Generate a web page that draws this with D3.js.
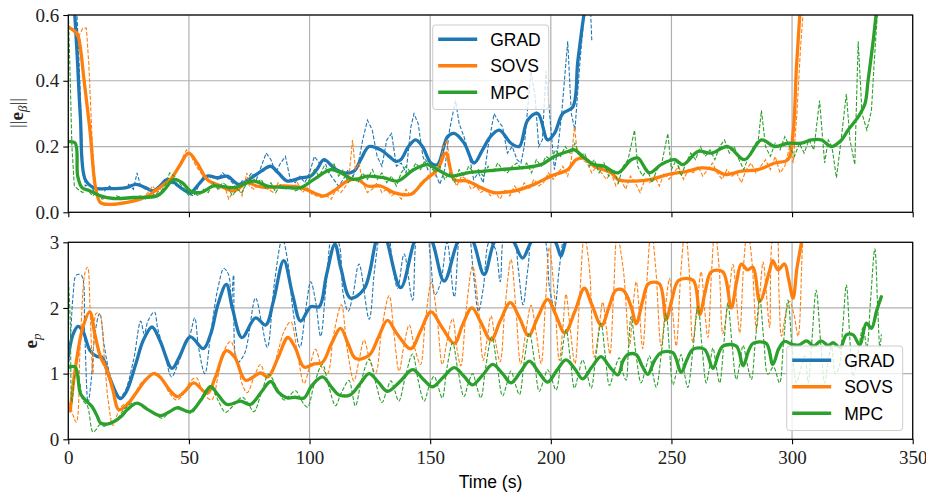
<!DOCTYPE html>
<html><head><meta charset="utf-8">
<script src="https://cdn.jsdelivr.net/npm/d3@7"></script>
<style>body{margin:0;background:#fff}svg{display:block}</style>
</head><body>
<svg id="chart" width="926" height="496"></svg>
<script>
// ---------- data ----------
const seriesNames = ["GRAD", "SOVS", "MPC"];
const xTicks = [0, 50, 100, 150, 200, 250, 300, 350];
const yTopTicks = [0.0, 0.2, 0.4, 0.6];
const yBotTicks = [0, 1, 2, 3];

// top panel ||e_beta||, smoothed (thick)
const gradTop = [[0,0.75],[2,0.66],[3.5,0.5],[5,0.29],[7,0.1],[10.5,0.075],[17,0.072],[24,0.075],[28,0.085],[32,0.075],[35.3,0.065],[38,0.08],[41,0.1],[44,0.09],[46.5,0.075],[50.6,0.06],[54,0.085],[57.6,0.11],[62,0.105],[65.9,0.11],[70.7,0.085],[76.9,0.11],[80,0.125],[83.9,0.14],[87,0.12],[90.8,0.095],[96.3,0.105],[100.5,0.11],[103,0.13],[106,0.16],[110.1,0.135],[114.3,0.12],[118.4,0.125],[121.2,0.16],[124.7,0.2],[129.5,0.19],[133,0.17],[135.7,0.155],[137.8,0.16],[141,0.2],[144,0.22],[146.8,0.2],[150.3,0.15],[153,0.145],[157.2,0.23],[160,0.24],[164.1,0.21],[168.2,0.15],[171.7,0.19],[175,0.23],[178.6,0.25],[183.5,0.21],[186.9,0.2],[190.4,0.28],[194.6,0.3],[198.7,0.22],[201.5,0.24],[204.9,0.3],[209.1,0.32],[211.2,0.46],[213.9,0.61],[217,0.75]];
const sovsTop = [[0.8,0.56],[3.6,0.545],[5,0.5],[6.4,0.41],[9.1,0.24],[11.2,0.08],[13.3,0.03],[17.4,0.024],[24.4,0.03],[29.9,0.04],[33,0.05],[36.8,0.07],[42.3,0.1],[46,0.14],[49.9,0.18],[53.4,0.15],[57.6,0.1],[63.1,0.08],[68.6,0.065],[74.2,0.09],[78,0.08],[82.5,0.075],[89.4,0.08],[96.3,0.075],[103.2,0.055],[106,0.05],[110,0.065],[115.7,0.095],[119.8,0.1],[124,0.08],[129.5,0.08],[135,0.06],[142,0.055],[147.5,0.095],[153,0.13],[156.5,0.18],[160,0.1],[165.5,0.095],[171,0.075],[176.5,0.06],[184.8,0.065],[193.1,0.085],[200,0.11],[207,0.13],[210.5,0.16],[213.9,0.165],[218,0.14],[225,0.12],[227.8,0.1],[234.7,0.095],[241.6,0.1],[248.5,0.115],[256.8,0.125],[262.3,0.135],[267.9,0.13],[272,0.115],[279,0.125],[285.9,0.13],[292.8,0.15],[298.3,0.16],[300.4,0.24],[301.8,0.44],[303.2,0.6],[304.5,0.75]];
const mpcTop = [[0.4,0.215],[2.9,0.21],[3.9,0.11],[5.7,0.075],[9.1,0.065],[13.3,0.05],[18.8,0.042],[27.1,0.045],[36.8,0.05],[40,0.07],[43.7,0.1],[47.2,0.09],[50.6,0.065],[54.8,0.06],[60.3,0.08],[68.6,0.075],[76.9,0.095],[82.5,0.08],[90.8,0.075],[96.3,0.075],[101.8,0.1],[108.8,0.13],[112.9,0.12],[118.4,0.1],[124,0.11],[130.9,0.105],[136.4,0.095],[143.3,0.13],[148.9,0.145],[153,0.13],[158.6,0.11],[165.5,0.12],[172.4,0.125],[179.3,0.13],[187.6,0.135],[195.9,0.145],[201.5,0.17],[207,0.185],[209.8,0.19],[213.9,0.165],[218,0.145],[222,0.14],[227.8,0.12],[233.3,0.16],[236.1,0.165],[240.9,0.12],[245.7,0.145],[251.3,0.16],[254.8,0.145],[261,0.185],[266.5,0.18],[273.4,0.2],[280.3,0.16],[287.3,0.22],[292.8,0.2],[298.3,0.21],[303.9,0.21],[308,0.22],[312.2,0.22],[316.3,0.2],[320.5,0.22],[323.2,0.25],[327.4,0.29],[330.2,0.33],[331.5,0.4],[333.6,0.52],[335,0.61],[336.5,0.68]];

// top panel raw (dashed)
const gradTopRaw = [[0,0.75],[3,0.7],[4.5,0.45],[6,0.15],[7,0.08],[9,0.085],[11,0.06],[13,0.075],[15,0.065],[17,0.08],[19,0.07],[21,0.075],[23,0.07],[25,0.085],[27,0.07],[28.5,0.12],[30,0.08],[32,0.07],[34,0.065],[36,0.05],[38,0.07],[40,0.1],[42,0.09],[44,0.085],[46,0.075],[48,0.07],[50,0.055],[52,0.05],[54,0.08],[56,0.11],[58,0.1],[60,0.11],[62,0.1],[64,0.12],[66,0.105],[68,0.09],[70,0.07],[72,0.095],[74,0.1],[76,0.12],[78,0.1],[80,0.14],[82,0.18],[84,0.16],[86,0.12],[88,0.15],[90,0.17],[92,0.1],[94,0.09],[96,0.11],[98,0.09],[100,0.12],[102,0.17],[104,0.15],[106,0.16],[108,0.12],[110,0.1],[112,0.08],[114,0.1],[116,0.13],[118,0.11],[120,0.14],[122,0.22],[124,0.28],[126,0.25],[128,0.17],[130,0.14],[132,0.22],[134,0.24],[136,0.14],[138,0.15],[140,0.12],[142,0.26],[143.3,0.3],[145,0.27],[147,0.17],[149,0.13],[151,0.14],[154,0.085],[156,0.13],[158,0.25],[160.5,0.34],[162,0.27],[164,0.23],[166,0.18],[168,0.1],[170,0.12],[172,0.09],[174,0.2],[176.5,0.3],[178,0.28],[180,0.26],[182,0.18],[184,0.2],[186,0.16],[187.6,0.15],[189,0.2],[191.8,0.43],[193.5,0.35],[195,0.2],[196.5,0.22],[198,0.43],[199.5,0.3],[201.5,0.13],[203,0.2],[204.5,0.3],[207,0.52],[208.5,0.3],[210,0.25],[212,0.45],[214,0.62],[216,0.7],[217,0.52]];
const sovsTopRaw = [[0,0.57],[2,0.55],[4,0.53],[6,0.56],[7.5,0.56],[8.5,0.45],[10,0.2],[11.5,0.06],[13,0.03],[15,0.025],[18,0.02],[21,0.025],[24,0.03],[27,0.035],[29,0.04],[31,0.045],[33,0.06],[35,0.08],[37,0.06],[39,0.085],[41,0.09],[43,0.1],[45,0.13],[47,0.16],[49,0.19],[51,0.17],[53,0.14],[55,0.12],[57,0.1],[59,0.09],[61,0.085],[63,0.07],[65,0.075],[66.5,0.04],[68,0.06],[70,0.08],[72,0.05],[74,0.12],[75,0.08],[77,0.07],[79,0.085],[81,0.075],[83,0.07],[85,0.06],[87,0.09],[89,0.075],[91,0.08],[93,0.07],[95,0.09],[97,0.06],[99,0.075],[101,0.055],[103,0.05],[105,0.045],[107,0.05],[109,0.04],[111,0.07],[113,0.06],[115,0.08],[116.5,0.12],[117.8,0.22],[119,0.13],[120.5,0.15],[122,0.09],[124,0.06],[126,0.07],[128,0.09],[130,0.06],[132,0.07],[134,0.05],[136,0.06],[138,0.04],[140,0.07],[142,0.05],[144,0.06],[146,0.09],[148,0.1],[150,0.12],[152,0.11],[154,0.15],[155.5,0.2],[157,0.22],[158.5,0.12],[161,0.08],[163,0.11],[165,0.1],[167,0.07],[169,0.08],[171,0.06],[173,0.07],[175,0.05],[177,0.06],[179,0.04],[181,0.07],[183,0.05],[185,0.08],[187,0.06],[189,0.09],[191,0.07],[193,0.1],[195,0.08],[197,0.09],[199,0.12],[201,0.1],[203,0.12],[205,0.14],[207,0.11],[208.5,0.16],[209.8,0.26],[211,0.18],[213,0.16],[215,0.15],[217,0.12],[219,0.14],[221,0.12],[223,0.1],[225,0.12],[227,0.08],[229,0.1],[231,0.07],[233,0.11],[235,0.09],[237,0.06],[239,0.1],[241,0.09],[243,0.11],[245,0.08],[247,0.12],[249,0.1],[251,0.12],[253,0.14],[255,0.1],[257,0.13],[259,0.12],[261,0.14],[263,0.11],[265,0.13],[267,0.15],[269,0.12],[271,0.1],[273,0.13],[275,0.11],[277,0.12],[279,0.09],[281,0.13],[283,0.15],[285,0.12],[287,0.14],[289,0.16],[291,0.13],[293,0.17],[295,0.12],[297,0.14],[299,0.2],[300.5,0.15],[302,0.3],[303.5,0.5],[305,0.65]];
const mpcTopRaw = [[0,0.62],[0.8,0.4],[1.5,0.2],[2.5,0.08],[4,0.07],[6,0.06],[8,0.07],[10,0.05],[12,0.06],[14,0.04],[16,0.045],[18,0.04],[20,0.05],[22,0.045],[24,0.04],[26,0.05],[28,0.045],[30,0.05],[32,0.04],[34,0.05],[36,0.045],[38,0.06],[40,0.08],[42,0.12],[44,0.11],[46,0.09],[48,0.07],[50,0.05],[52,0.06],[54,0.05],[56,0.07],[58,0.06],[60,0.09],[62,0.07],[64,0.09],[66,0.08],[68,0.05],[70,0.07],[72,0.06],[74,0.09],[76,0.11],[78,0.09],[80,0.1],[82,0.07],[84,0.09],[86,0.06],[88,0.085],[90,0.07],[92,0.08],[94,0.065],[96,0.07],[98,0.08],[100,0.1],[102,0.13],[104,0.11],[106,0.14],[108,0.12],[110,0.15],[112,0.11],[114,0.13],[116,0.09],[118,0.11],[120,0.09],[122,0.12],[124,0.1],[126,0.13],[128,0.1],[130,0.12],[132,0.09],[134,0.11],[136,0.08],[138,0.12],[140,0.14],[142,0.12],[144,0.15],[146,0.13],[148,0.16],[150,0.14],[152,0.12],[154,0.14],[156,0.1],[158,0.12],[160,0.09],[162,0.13],[164,0.11],[166,0.14],[168,0.12],[170,0.13],[172,0.11],[174,0.14],[176,0.12],[178,0.15],[180,0.13],[182,0.12],[184,0.14],[186,0.15],[188,0.13],[190,0.15],[192,0.12],[194,0.16],[196,0.14],[198,0.17],[200,0.16],[202,0.19],[204,0.17],[206,0.2],[208,0.18],[210,0.21],[212,0.17],[214,0.18],[216,0.14],[218,0.16],[220,0.12],[222,0.15],[224,0.11],[226,0.13],[228,0.09],[230,0.14],[232,0.16],[234.7,0.25],[236,0.14],[238,0.11],[240,0.13],[242,0.09],[244,0.13],[246,0.15],[248.5,0.24],[250,0.13],[252,0.16],[254,0.11],[256,0.15],[258,0.18],[260,0.16],[262,0.2],[264,0.17],[266,0.19],[268,0.16],[270,0.2],[272,0.22],[274,0.18],[276,0.2],[278,0.16],[280,0.13],[282,0.17],[284,0.2],[286,0.22],[287.3,0.31],[289,0.2],[291,0.17],[293,0.21],[295,0.19],[297,0.23],[299,0.2],[301,0.17],[303,0.21],[305,0.18],[307,0.22],[309,0.19],[311.4,0.34],[313.5,0.15],[315,0.22],[316.5,0.2],[318.4,0.105],[320,0.2],[322.5,0.36],[324,0.22],[326,0.145],[327.4,0.52],[329,0.3],[331,0.25],[332.9,0.31],[334,0.45],[335.5,0.62],[337,0.7]];

// bottom panel e_p, smoothed (thick)
const gradBot = [[0,1.26],[2,1.6],[4,1.72],[6,1.65],[9,1.35],[11.9,1.26],[14,1.25],[17,0.95],[21.6,0.62],[24,0.72],[28,1.15],[31,1.5],[34.7,1.71],[38,1.5],[43,1.08],[46,1.25],[50.6,1.56],[56,1.38],[59,1.6],[62,2.05],[65.5,2.36],[68,2.0],[72,1.55],[77.6,1.85],[81.8,1.74],[85,2.1],[89.3,2.72],[93,2.2],[96.3,1.8],[100.5,2.02],[104,2.02],[107,2.5],[110.5,2.97],[113,2.6],[117,2.15],[122.6,2.29],[127.4,3.0],[130,3.3],[132.3,3.0],[137.8,2.31],[143.3,3.0],[147,3.3],[151,3.0],[155.8,2.41],[161.3,3.0],[165,3.2],[168,3.0],[172.4,2.51],[176.5,3.0],[181,3.2],[184.8,3.0],[188.3,2.76],[191.8,3.0],[197,3.2],[202,3.0],[204.2,2.79],[206,3.0],[210,3.4]];
const sovsBot = [[0.8,0.43],[3,1.1],[6,1.7],[8.9,1.94],[11,1.6],[13.3,1.26],[16,1.06],[18.5,0.75],[20.9,0.45],[24.4,0.53],[28,0.7],[32,0.9],[35.4,1.0],[38,0.95],[42,0.75],[45.1,0.65],[48,0.72],[52,0.86],[57.6,0.7],[61,0.95],[65.5,1.35],[69,1.25],[73.5,0.9],[79.7,1.01],[82.8,0.95],[87,1.25],[91,1.55],[94,1.4],[97.7,1.1],[102,1.15],[105.3,1.17],[109,1.45],[112.9,1.69],[116,1.45],[119.1,1.23],[124.7,1.28],[128.5,1.55],[132.3,1.81],[136,1.62],[142,1.38],[146,1.65],[150.3,1.94],[155,1.7],[160,1.46],[163.5,1.75],[167.3,2.0],[171,1.78],[175.2,1.51],[179,1.8],[183.2,2.08],[187,1.85],[190.8,1.58],[194.5,1.85],[198.7,2.13],[202,1.9],[205.8,1.62],[210,1.95],[213.9,2.3],[217,2.05],[221,1.73],[224,2.0],[227,2.27],[230,2.27],[233.3,2.02],[235.4,1.76],[238,2.1],[240.5,2.37],[245,2.37],[247.8,1.82],[250,2.1],[253,2.42],[259,2.42],[261.7,1.9],[264,2.25],[266.5,2.55],[271.3,2.55],[274.8,2.0],[277,2.4],[279,2.67],[281.5,2.58],[283.8,2.62],[286.6,2.1],[290.7,2.57],[292,2.72],[294.2,2.58],[296.9,2.67],[298.5,2.45],[300.4,2.15],[302,2.6],[303.9,3.0],[305,3.3]];
const mpcBot = [[0.4,1.1],[2.9,1.1],[5,0.7],[7,0.6],[9.8,0.5],[12,0.35],[13.3,0.25],[16,0.23],[19,0.27],[22,0.35],[24.4,0.45],[28.5,0.55],[32.7,0.46],[38.2,0.36],[42,0.42],[45.1,0.48],[50.6,0.42],[55,0.6],[59,0.8],[62,0.68],[65.9,0.53],[71.4,0.58],[75.5,0.53],[80,0.72],[83.9,0.88],[87,0.72],[90.8,0.63],[94,0.64],[97.7,0.63],[101,0.82],[105.3,0.95],[109,0.8],[112,0.68],[117,0.68],[121,0.85],[124.7,1.0],[128.5,0.87],[132.3,0.73],[137.5,0.88],[142.7,1.06],[147,0.92],[151,0.8],[155.5,0.95],[160,1.09],[164,0.96],[167.6,0.83],[172,0.99],[175.9,1.14],[180,1.0],[183.5,0.86],[187.5,1.03],[191.1,1.19],[195,1.02],[198.7,0.87],[202.5,1.05],[206.3,1.21],[210,1.07],[213.2,0.92],[217,1.1],[220.8,1.26],[224.5,1.1],[227.8,0.98],[230,1.2],[232,1.29],[235.4,1.29],[237.8,1.12],[240.2,0.99],[243,1.2],[245.7,1.32],[250.6,1.32],[254,1.02],[256.5,1.22],[258.9,1.37],[263.7,1.37],[267.2,1.08],[269.5,1.3],[271.3,1.42],[276.9,1.42],[279.7,1.12],[282,1.35],[283.8,1.46],[289.3,1.46],[292,1.14],[294.5,1.38],[296.9,1.49],[300.4,1.44],[303.1,1.44],[306,1.5],[309,1.42],[312,1.5],[315,1.43],[317,1.47],[320,1.4],[322.5,1.59],[325.3,1.59],[328,1.44],[330.8,1.77],[332.9,1.69],[335,1.95],[337,2.17]];

// bottom panel raw (dashed)
const gradBotRaw = [[0,1.0],[1,1.6],[2,2.2],[3.3,2.5],[5.4,2.5],[6.8,1.6],[8.2,0.56],[9.5,0.9],[11,1.6],[13,1.92],[15,1.4],[17.1,1.0],[20,0.62],[23,0.7],[27,1.2],[30,1.8],[31.5,1.6],[33,1.8],[35.7,1.94],[37,1.7],[40,1.3],[42.8,0.95],[45,1.1],[48,1.4],[50.5,1.6],[52.4,1.85],[54,1.4],[56.6,1.0],[59,1.6],[62,2.3],[64.5,2.6],[66.5,2.5],[67.5,2.0],[68.5,2.5],[70,1.17],[73,1.3],[77.6,2.15],[80,1.8],[82.5,1.4],[85.5,2.4],[88.7,3.05],[91,2.7],[93,2.0],[96,1.4],[98.5,2.0],[100.5,2.4],[102.5,2.1],[104.6,1.57],[107,2.4],[109.5,3.1],[112,3.0],[114,2.2],[116,1.95],[118,2.2],[120.5,2.67],[124.7,1.83],[127,2.6],[129.5,3.2],[132,3.4],[134,2.8],[136.5,2.3],[139.2,2.82],[142.7,2.12],[145,3.2],[148,3.3],[150,2.8],[152,2.2],[154.4,2.4],[157,3.0],[160,2.17],[162.5,3.2],[165,3.4],[168,2.5],[170,1.95],[172,2.3],[174.5,3.0],[177,2.9],[179,2.4],[181,3.2],[184,3.3],[186.5,2.6],[188.5,2.05],[190.5,2.6],[193,3.2],[197,3.1],[199.5,2.3],[201.5,2.0],[203.5,2.6],[205.5,3.1],[208,3.3]];
const sovsBotRaw = [[0.5,0.56],[3.3,0.26],[5,1.5],[7,2.55],[8,2.62],[9,2.0],[10.2,1.0],[11.6,1.92],[13,1.9],[15,1.2],[16.5,0.6],[18.5,0.21],[20,0.35],[22,0.5],[26,0.6],[30,0.85],[33,0.95],[36,1.02],[39,0.9],[42,0.7],[44.8,0.6],[48,0.7],[50,0.85],[53,0.94],[56,0.7],[59.4,0.6],[62,0.95],[64,1.3],[67.2,1.49],[70,1.2],[72,0.85],[74.2,0.71],[77,0.95],[79.7,1.14],[82,0.95],[84,0.98],[87,1.35],[89.5,1.65],[92.2,1.79],[95,1.3],[97.7,0.85],[100,1.1],[102.5,1.37],[105,1.1],[107.4,1.0],[110,1.6],[113.2,2.05],[115.5,1.4],[118.4,0.89],[120.5,1.2],[122.6,1.51],[125,1.2],[127.4,1.01],[130,1.7],[133,2.19],[135,1.6],[137.1,1.04],[139,1.4],[141.3,1.74],[143.5,1.4],[146,1.14],[148,1.8],[150.5,2.39],[153,1.8],[155,1.14],[157,1.5],[159.3,1.84],[161,1.4],[162.7,1.12],[165,2.0],[167.6,2.64],[170,2.0],[172,1.2],[173.5,1.5],[175.2,1.88],[177,1.5],[179,1.18],[181,2.0],[183.5,2.74],[185.5,2.0],[187.5,1.15],[189.5,1.6],[191.8,2.04],[194,1.6],[196,1.15],[197.8,2.1],[199.4,2.92],[201.5,2.2],[203.5,1.2],[205,1.7],[206.3,2.21],[208,1.7],[210,1.15],[212,2.2],[213.9,3.1],[216,2.6],[218,1.25],[220,1.7],[221.5,2.09],[223,1.7],[224.5,1.3],[226,2.2],[227.5,3.1],[230,2.6],[232.6,1.42],[234,2.0],[235.4,2.4],[236.8,1.9],[238.1,1.38],[240,2.5],[241.6,3.2],[243.5,2.6],[245.7,1.42],[247.5,2.0],[249.2,2.45],[250.6,1.9],[252,1.42],[254,2.6],[255.7,3.2],[257.3,2.6],[258.8,1.48],[260.5,2.0],[262.3,2.55],[263.7,2.0],[265.1,1.55],[266.7,2.6],[268,3.2],[269.8,2.6],[271.3,1.61],[273.5,2.1],[275.5,2.66],[277,2.1],[278.3,1.62],[280,2.7],[281.5,3.2],[283.4,2.7],[285.2,1.67],[286.6,2.2],[288,2.7],[289.4,2.2],[290.7,1.7],[292,3.1],[293.5,3.2],[294.6,2.2],[295.6,1.57],[297.3,1.9],[299,2.1],[300.8,1.9],[302.5,1.57],[304.6,3.1],[305.5,3.3]];
const mpcBotRaw = [[0,2.5],[0.8,1.8],[1.5,0.56],[3,1.0],[4.5,0.9],[6,0.6],[8,0.5],[10.2,0.11],[11.6,0.15],[13,0.22],[15,0.2],[17,0.25],[20,0.3],[23,0.45],[27,0.56],[30,0.52],[33,0.44],[36,0.38],[39,0.32],[42,0.42],[45,0.5],[48,0.45],[51,0.4],[54,0.55],[57,0.75],[59,0.82],[62,0.6],[65.2,0.41],[68,0.5],[72.1,0.64],[74.5,0.55],[76.9,0.42],[80,0.7],[83.1,0.99],[86,0.82],[89.4,0.6],[91.5,0.66],[94.2,0.74],[96.5,0.6],[99.1,0.49],[102,0.85],[105.3,1.14],[108,0.8],[110.8,0.51],[112.5,0.65],[114.3,0.79],[116.3,0.9],[119,0.51],[121.5,0.9],[124.7,1.22],[127.5,0.85],[130,0.56],[131.8,0.72],[133.7,0.89],[135.5,0.72],[137,0.58],[140,1.0],[142.7,1.3],[145,0.9],[147.5,0.58],[149.5,0.8],[151.6,0.96],[153.3,0.8],[155,0.63],[157,1.1],[159.3,1.47],[161.5,1.05],[164,0.65],[165.8,0.85],[167.6,1.0],[169.3,0.8],[171,0.63],[173,1.1],[175.5,1.56],[177.8,1.1],[180,0.66],[181.8,0.85],[183.5,1.04],[185.2,0.85],[187,0.68],[189,1.2],[191.1,1.62],[193.2,1.2],[195.2,0.73],[197,0.9],[198.7,1.06],[200.5,0.9],[202.2,0.75],[204.2,1.2],[206.3,1.67],[208,1.25],[209.8,0.78],[211.5,1.0],[213.2,1.21],[215,1.0],[216.7,0.78],[218.8,1.3],[220.8,1.77],[222.5,1.3],[224.3,0.82],[226.3,1.05],[228.4,1.24],[230,1.0],[231.2,0.9],[232.2,1.4],[233.3,1.87],[235.3,1.3],[237.4,0.86],[239.2,1.06],[240.9,1.27],[242.3,1.0],[243.7,0.79],[245.8,1.3],[247.8,1.92],[249.2,1.35],[250.6,0.83],[252.3,1.06],[254,1.29],[255.4,1.0],[256.8,0.79],[259,1.4],[261,2.02],[262.7,1.4],[264.4,0.86],[265.8,1.1],[267.2,1.39],[268.6,1.1],[270,0.86],[271.7,1.45],[273.4,2.07],[275.1,1.45],[276.9,0.91],[278.3,1.15],[279.7,1.43],[281.4,1.15],[283.1,0.91],[284.8,1.5],[286.6,2.14],[288.3,1.5],[290,0.99],[292.3,1.1],[294.8,0.86],[296.5,1.5],[298.3,2.12],[300,1.4],[301.8,0.86],[303.8,1.1],[305.3,1.27],[306.7,0.86],[308.2,1.5],[310,2.27],[311.8,1.5],[313.5,0.86],[315,1.2],[316.3,1.42],[318,1.0],[319.5,1.1],[321,1.7],[322.5,2.35],[324,1.5],[325.3,0.96],[327.2,1.3],[329.4,1.7],[331,1.4],[332.5,2.1],[334.3,2.9],[335.5,2.0],[336.4,1.4],[337,1.6]];

// ---------- layout ----------
const colors = ["#1f77b4", "#ff7f0e", "#2ca02c"];
const svg = d3.select("#chart");
const x = d3.scaleLinear().domain([0, 350]).range([68.3, 912.7]);
const yTop = d3.scaleLinear().domain([0, 0.6]).range([212.3, 15]);
const yBot = d3.scaleLinear().domain([0, 3]).range([439.3, 242.3]);

const serif = "'Liberation Serif', 'DejaVu Serif', serif";
const sans = "'Liberation Sans', Arial, sans-serif";

function panel(id, y, yTicks, yFmt, thick, raw, showXLabels, legendPos) {
  const [y0, y1] = y.range();
  const g = svg.append("g");
  svg.append("clipPath").attr("id", id).append("rect")
    .attr("x", x.range()[0]).attr("y", y1).attr("width", x.range()[1] - x.range()[0]).attr("height", y0 - y1);
  // grid
  g.append("g").selectAll("line").data(xTicks).join("line")
    .attr("x1", d => x(d)).attr("x2", d => x(d)).attr("y1", y1).attr("y2", y0)
    .attr("stroke", "#b0b0b0").attr("stroke-width", 1.2);
  g.append("g").selectAll("line").data(yTicks).join("line")
    .attr("x1", x.range()[0]).attr("x2", x.range()[1]).attr("y1", d => y(d)).attr("y2", d => y(d))
    .attr("stroke", "#b0b0b0").attr("stroke-width", 1.2);
  // lines
  const lg = g.append("g").attr("clip-path", `url(#${id})`);
  const thickLine = d3.line().x(d => x(d[0])).y(d => y(d[1])).curve(d3.curveCatmullRom.alpha(0.5));
  const rawLine = d3.line().x(d => x(d[0])).y(d => y(d[1])).curve(id === "clipTop" ? d3.curveLinear : d3.curveCatmullRom.alpha(0.5));
  for (let i = 0; i < 3; i++) {
    lg.append("path").datum(raw[i]).attr("d", rawLine).attr("fill", "none")
      .attr("stroke", colors[i]).attr("stroke-width", 1.1).attr("stroke-dasharray", "4,1.8");
    lg.append("path").datum(thick[i]).attr("d", thickLine).attr("fill", "none")
      .attr("stroke", colors[i]).attr("stroke-width", 3.3).attr("stroke-linejoin", "round").attr("stroke-linecap", "round");
  }
  // axes
  const ax = g.append("g").attr("transform", `translate(0,${y0})`)
    .call(d3.axisBottom(x).tickValues(xTicks).tickSize(5).tickPadding(6).tickFormat(showXLabels ? d3.format("d") : () => ""));
  const ay = g.append("g").attr("transform", `translate(${x.range()[0]},0)`)
    .call(d3.axisLeft(y).tickValues(yTicks).tickSize(5).tickPadding(4).tickFormat(yFmt));
  [ax, ay].forEach(a => {
    a.select(".domain").remove();
    a.selectAll(".tick line").attr("stroke", "#000").attr("stroke-width", 1.1);
    a.selectAll(".tick text").attr("font-family", serif).attr("font-size", 19).attr("fill", "#222");
  });
  // frame
  g.append("rect").attr("x", x.range()[0]).attr("y", y1).attr("width", x.range()[1] - x.range()[0]).attr("height", y0 - y1)
    .attr("fill", "none").attr("stroke", "#000").attr("stroke-width", 1.2);
  // legend
  const L = g.append("g").attr("transform", `translate(${legendPos[0]},${legendPos[1]})`);
  L.append("rect").attr("width", 116).attr("height", 84.5).attr("rx", 3)
    .attr("fill", "#fff").attr("fill-opacity", 0.8).attr("stroke", "#cccccc").attr("stroke-width", 1);
  seriesNames.forEach((n, i) => {
    const yy = 14.3 + i * 26.5;
    L.append("line").attr("x1", 5.5).attr("x2", 44.5).attr("y1", yy).attr("y2", yy)
      .attr("stroke", colors[i]).attr("stroke-width", 3.5);
    L.append("text").attr("x", 57.5).attr("y", yy + 6.3).text(n)
      .attr("font-family", sans).attr("font-size", 17.5).attr("fill", "#000");
  });
}

panel("clipTop", yTop, yTopTicks, d3.format(".1f"), [gradTop, sovsTop, mpcTop], [gradTopRaw, sovsTopRaw, mpcTopRaw], false, [432.7, 25]);
panel("clipBot", yBot, yBotTicks, d3.format("d"), [gradBot, sovsBot, mpcBot], [gradBotRaw, sovsBotRaw, mpcBotRaw], true, [786.7, 346]);

// axis labels
svg.append("text").attr("x", 490.5).attr("y", 488).attr("text-anchor", "middle")
  .attr("font-family", sans).attr("font-size", 17.5).attr("fill", "#000").text("Time (s)");

const yl1 = svg.append("text").attr("transform", "translate(23,113) rotate(-90)").attr("text-anchor", "middle")
  .attr("font-family", serif).attr("font-size", 19).attr("fill", "#222");
yl1.append("tspan").text("||");
yl1.append("tspan").attr("font-weight", "bold").text("e");
yl1.append("tspan").attr("font-style", "italic").attr("font-size", 13).attr("dy", 4).text("β");
yl1.append("tspan").attr("dy", -4).text("||");

const yl2 = svg.append("text").attr("transform", "translate(37,341) rotate(-90)").attr("text-anchor", "middle")
  .attr("font-family", serif).attr("font-size", 19).attr("fill", "#222");
yl2.append("tspan").attr("font-weight", "bold").text("e");
yl2.append("tspan").attr("font-style", "italic").attr("font-size", 13).attr("dy", 4).text("p");
</script>
</body></html>
